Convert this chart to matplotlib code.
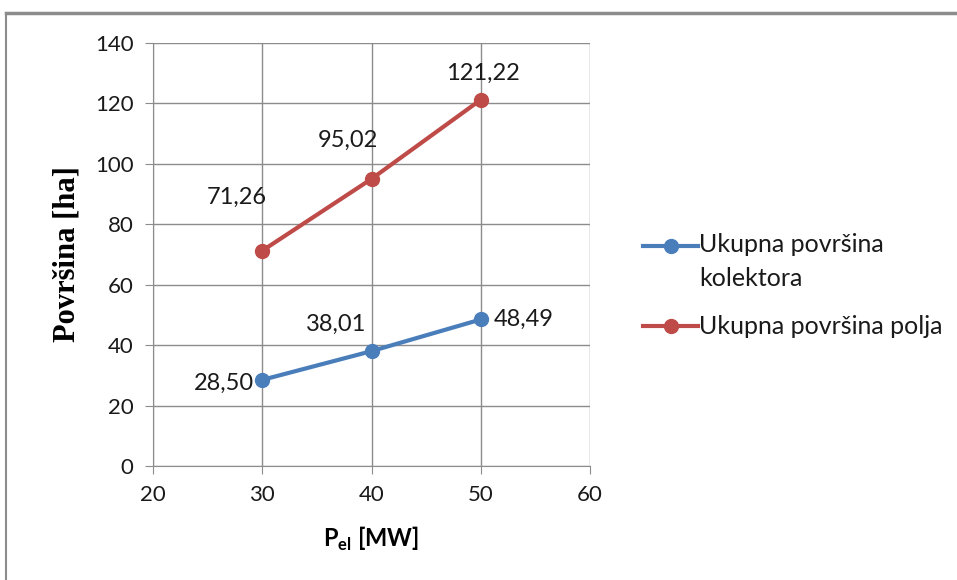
"""Total collector / field area versus electrical power."""
import matplotlib

matplotlib.use("Agg")
import matplotlib.pyplot as plt
from matplotlib.lines import Line2D
from matplotlib.transforms import Affine2D

plt.rcParams["font.family"] = ["Lato", "DejaVu Sans"]

power_mw = [30, 40, 50]
collector_area = [28.50, 38.01, 48.49]
field_area = [71.26, 95.02, 121.22]
collector_name = "Ukupna površina\nkolektora"
field_name = "Ukupna površina polja"
x_ticks = [20, 30, 40, 50, 60]
y_ticks = [0, 20, 40, 60, 80, 100, 120, 140]

BLUE = "#4a7ebb"
RED = "#be4b48"
GRID = "#8c8c8c"


def fmt(v: float) -> str:
    return f"{v:.2f}".replace(".", ",")


fig = plt.figure(figsize=(9.57, 5.8), dpi=100)
ax = fig.add_axes([0.160, 0.1966, 0.4565, 0.7293])

ax.plot(power_mw, collector_area, color=BLUE, lw=3, marker="o", ms=10,
        label=collector_name, zorder=3)
ax.plot(power_mw, field_area, color=RED, lw=3, marker="o", ms=10,
        label=field_name, zorder=3)

ax.set_xlim(20, 60)
ax.set_ylim(0, 140)
ax.set_xticks(x_ticks)
ax.set_yticks(y_ticks)
ax.grid(True, color=GRID, lw=1)
ax.set_axisbelow(True)
for side in ("top", "right"):
    ax.spines[side].set_visible(False)
for side in ("left", "bottom"):
    ax.spines[side].set_color(GRID)
ax.tick_params(length=6, color=GRID, labelsize=16, labelcolor="#1a1a1a", pad=8)

ax.set_ylabel("Površina [ha]", family="Liberation Serif", fontweight="bold",
              fontsize=22, labelpad=10)
ax.set_xlabel(r"P$_{\mathregular{el}}$ [MW]", fontweight="bold", fontsize=17,
              labelpad=14)

# data labels (offsets in pixels)
blue_offsets = [((-8, -3), "right"), ((-5, 27), "right"), ((13, 0), "left")]
red_offsets = [((5, 53), "right"), ((6, 39), "right"), ((2, 26), "center")]
for xs, ys, offs in ((power_mw, collector_area, blue_offsets),
                     (power_mw, field_area, red_offsets)):
    for x, y, (off, ha) in zip(xs, ys, offs):
        ax.annotate(fmt(y), (x, y), xytext=off, textcoords="offset pixels",
                    ha=ha, va="center", fontsize=17, color="#1a1a1a")

leg = ax.legend(loc="center left", bbox_to_anchor=(1.07, 0.426), frameon=False,
                fontsize=18, handlelength=2.2, handletextpad=0.05,
                labelspacing=1.0)
for t in leg.get_texts():
    t.set_color("#1a1a1a")
    t.set_linespacing(1.6)
# Excel puts the handle next to the first line of a wrapped label
h = leg.legend_handles[0]
h.set_transform(h.get_transform() + Affine2D().translate(0, 17))

# outer chart frame (cut at right and bottom)
fig.add_artist(Line2D([6 / 957, 1], [1 - 13 / 580] * 2, color="#8c8c8c", lw=2.5))
fig.add_artist(Line2D([6 / 957] * 2, [0, 1 - 13 / 580], color="#8c8c8c", lw=1.5))

fig.savefig("out.png", dpi=100)
